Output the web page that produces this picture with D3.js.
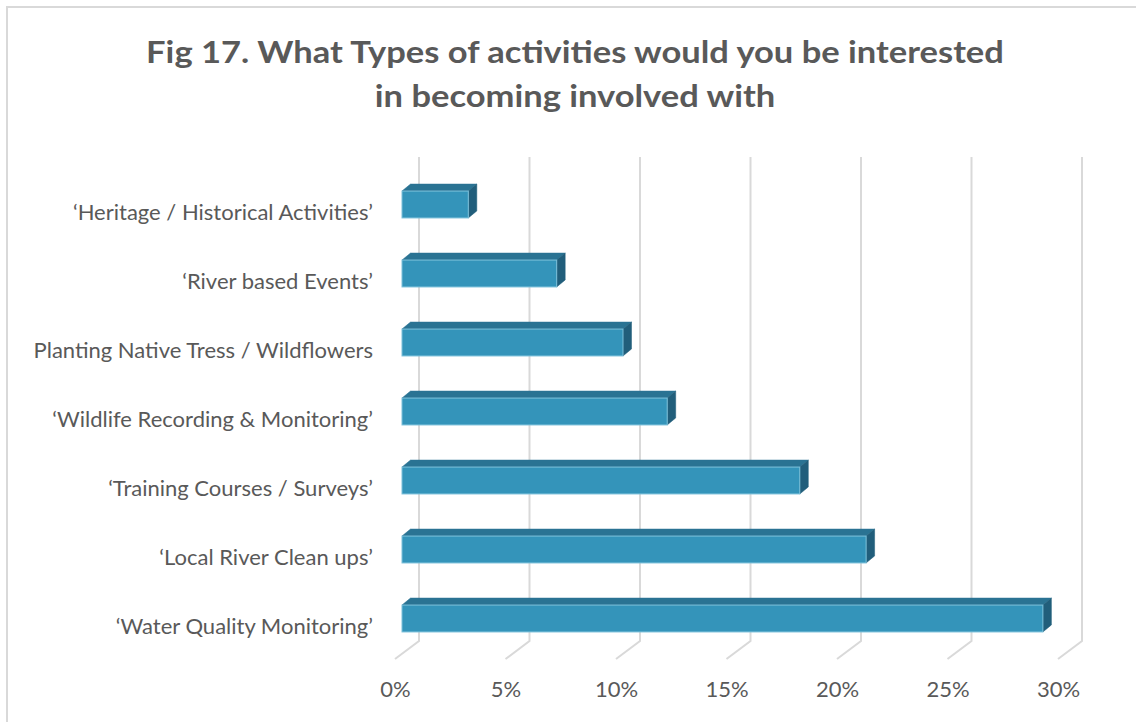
<!DOCTYPE html>
<html><head><meta charset="utf-8">
<script src="https://cdn.jsdelivr.net/npm/d3@7"></script>
<style>html,body{margin:0;padding:0;background:#fff;}svg{display:block;}</style>
</head><body>
<svg id="chart" width="1136" height="722"></svg>
<script>
const categories = [
  "\u2018Heritage / Historical Activities\u2019",
  "\u2018River based Events\u2019",
  "Planting Native Tress / Wildflowers",
  "\u2018Wildlife Recording & Monitoring\u2019",
  "\u2018Training Courses / Surveys\u2019",
  "\u2018Local River Clean ups\u2019",
  "\u2018Water Quality Monitoring\u2019"
];
const values = [3, 7, 10, 12, 18, 21, 29];
const tickValues = [0, 5, 10, 15, 20, 25, 30];
const titleLines = ["Fig 17. What Types of activities would you be interested", "in becoming involved with"];

const svg = d3.select("#chart");
const textColor = "#595959";
const gridColor = "#d9d9d9";
const font = "Lato, 'Open Sans', sans-serif";

// frame
svg.append("rect").attr("x", 7).attr("y", 7).attr("width", 1140).attr("height", 730)
  .attr("fill", "#fff").attr("stroke", gridColor).attr("stroke-width", 2);

// title (stretched horizontally to mimic a condensed bold face)
const titleSel = svg.append("g").selectAll("text").data(titleLines).join("text")
  .attr("x", 575).attr("y", (d, i) => 63 + i * 44)
  .attr("text-anchor", "middle")
  .attr("font-family", font)
  .attr("font-weight", "bold").attr("font-size", 30)
  .attr("fill", textColor).text(d => d);
titleSel.each(function () {
  const w = this.getComputedTextLength();
  d3.select(this).attr("textLength", w * 1.15).attr("lengthAdjust", "spacingAndGlyphs");
});

// 3D geometry
const depthDx = 24, depthDy = -18;     // floor depth (front -> back)
const barOffX = 7;                     // bar front face offset from front plane
const barDx = 8.5, barDy = -7;         // bar depth
const floorY = 659;

const x = d3.scaleLinear().domain([0, 30]).range([395, 1058]);
const y = d3.scaleBand().domain(categories).range([170, 653]).paddingInner(0.61).paddingOuter(0.305);

// gridlines on back wall + floor
const grid = svg.append("g");
tickValues.forEach(v => {
  const xb = x(v) + depthDx, yb = floorY + depthDy;
  grid.append("path")
    .attr("d", `M${xb},157 L${xb},${yb} L${x(v)},${floorY}`)
    .attr("fill", "none").attr("stroke", gridColor).attr("stroke-width", 2);
});

// axis tick labels via d3 axis
const axisG = svg.append("g").attr("transform", `translate(0,${floorY + 19})`)
  .call(d3.axisBottom(x).tickValues(tickValues).tickFormat(d => d + "%").tickSize(0));
axisG.select(".domain").remove();
axisG.selectAll("text")
  .attr("font-family", font).attr("font-size", 22)
  .attr("fill", textColor).attr("dy", "0.71em");

// bars
const bars = svg.append("g");
categories.forEach((c, i) => {
  const v = values[i];
  const x0 = x(0) + barOffX, x1 = x(v) + barOffX;
  const y0 = y(c), h = y.bandwidth();
  const g = bars.append("g");
  g.append("path")
    .attr("d", `M${x0},${y0} L${x0 + barDx},${y0 + barDy} L${x1 + barDx},${y0 + barDy} L${x1},${y0} Z`)
    .attr("fill", "#2a7393").attr("stroke", "#2a7393").attr("stroke-width", 0.5);
  g.append("path")
    .attr("d", `M${x1},${y0} L${x1 + barDx},${y0 + barDy} L${x1 + barDx},${y0 + h + barDy} L${x1},${y0 + h} Z`)
    .attr("fill", "#215e7b").attr("stroke", "#215e7b").attr("stroke-width", 0.5);
  g.append("rect").attr("x", x0).attr("y", y0).attr("width", x1 - x0).attr("height", h)
    .attr("fill", "#3494ba").attr("stroke", "#7cc0da").attr("stroke-width", 1);
});

// category labels
svg.append("g").selectAll("text").data(categories).join("text")
  .attr("x", 373).attr("y", d => y(d) + y.bandwidth() / 2 + 8)
  .attr("dy", "0.35em").attr("text-anchor", "end")
  .attr("font-family", font).attr("font-size", 22)
  .attr("fill", textColor).text(d => d);
</script>
</body></html>
